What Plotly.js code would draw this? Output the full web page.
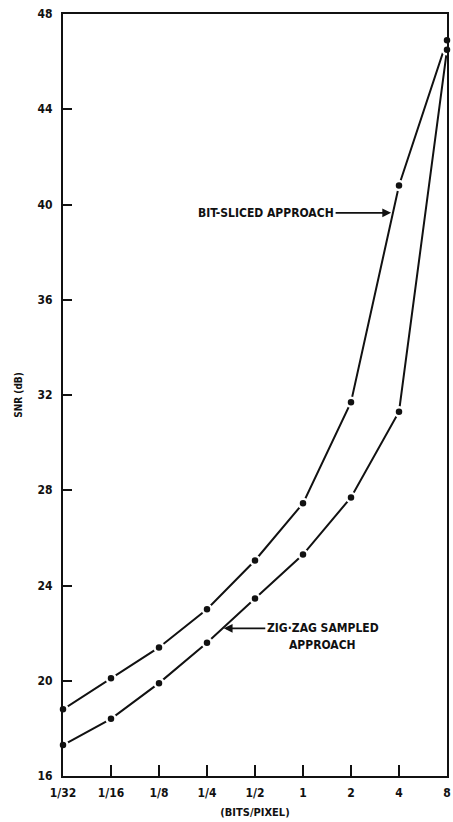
<!DOCTYPE html>
<html>
<head>
<meta charset="utf-8">
<script src="https://cdn.plot.ly/plotly-3.0.1.min.js"></script>
<style>
  html, body { margin: 0; padding: 0; background: #fff; }
  #chart { width: 453px; height: 822px; }
</style>
</head>
<body>
<div id="chart"></div>
<script>
// Bits per pixel (x categories on a log2 scale)
const bitsPerPixel = [1/32, 1/16, 1/8, 1/4, 1/2, 1, 2, 4, 8];
const tickLabels = ['1/32', '1/16', '1/8', '1/4', '1/2', '1', '2', '4', '8'];
// SNR (dB) values
const bitSlicedSNR = [18.8, 20.1, 21.4, 23.0, 25.05, 27.45, 31.7, 40.8, 46.9];
const zigZagSNR    = [17.3, 18.4, 19.9, 21.6, 23.45, 25.3, 27.7, 31.3, 46.5];
const yTicks = [16, 20, 24, 28, 32, 36, 40, 44, 48];

const FONT = '"Liberation Sans Narrow", "DejaVu Sans Condensed", "Liberation Sans", Arial, sans-serif';

const lineStyle = { color: '#111', width: 2 };
const markerStyle = { color: '#111', size: 9, line: { color: '#fff', width: 2.5 } };

const traces = [
  { x: bitsPerPixel, y: bitSlicedSNR, mode: 'lines+markers', name: 'BIT-SLICED APPROACH',
    line: lineStyle, marker: markerStyle, cliponaxis: false },
  { x: bitsPerPixel, y: zigZagSNR, mode: 'lines+markers', name: 'ZIG·ZAG SAMPLED APPROACH',
    line: lineStyle, marker: markerStyle, cliponaxis: false }
];

const layout = {
  width: 453, height: 822,
  margin: { l: 63, r: 6, t: 14, b: 46 },
  paper_bgcolor: '#fff', plot_bgcolor: '#fff',
  showlegend: false,
  font: { family: FONT, color: '#111', size: 12, weight: 'bold' },
  xaxis: {
    type: 'log',
    range: [Math.log10(1/32), Math.log10(8)],
    tickvals: bitsPerPixel, ticktext: tickLabels,
    ticks: 'inside', ticklen: 11, tickwidth: 2, tickcolor: '#111',
    showline: true, linecolor: '#111', linewidth: 2, mirror: true,
    showgrid: false, zeroline: false,
    ticklabelstandoff: 5,
    tickfont: { family: FONT, size: 12, color: '#111', weight: 'bold' },
    title: { text: '(BITS/PIXEL)', font: { family: FONT, size: 11, color: '#111', weight: 'bold' }, standoff: 9 }
  },
  yaxis: {
    range: [16, 48],
    tickvals: yTicks,
    ticks: 'inside', ticklen: 9, tickwidth: 2, tickcolor: '#111',
    showline: true, linecolor: '#111', linewidth: 2, mirror: true,
    showgrid: false, zeroline: false,
    ticklabelstandoff: 6,
    tickfont: { family: FONT, size: 12, color: '#111', weight: 'bold' },
    title: { text: 'SNR (dB)', font: { family: FONT, size: 10, color: '#111', weight: 'bold' }, standoff: 13 }
  },
  annotations: [
    { x: Math.log10(3.62), y: 39.65, xref: 'x', yref: 'y',
      text: 'BIT-SLICED APPROACH', showarrow: true,
      ax: -126, ay: 0, arrowhead: 2, arrowsize: 1.1, arrowwidth: 1.6, arrowcolor: '#111', standoff: 1,
      font: { family: FONT, size: 12, color: '#111', weight: 'bold' } },
    { x: Math.log10(0.314), y: 22.2, xref: 'x', yref: 'y',
      text: 'ZIG·ZAG SAMPLED', showarrow: true,
      ax: 100, ay: 0, arrowhead: 2, arrowsize: 1.1, arrowwidth: 1.6, arrowcolor: '#111', standoff: 1,
      font: { family: FONT, size: 12, color: '#111', weight: 'bold' } },
    { x: Math.log10(0.314), y: 22.2, xref: 'x', yref: 'y',
      text: 'APPROACH', showarrow: false, xshift: 100, yshift: -17,
      font: { family: FONT, size: 12, color: '#111', weight: 'bold' } }
  ]
};

Plotly.newPlot('chart', traces, layout, { staticPlot: true, displayModeBar: false });
</script>
</body>
</html>
